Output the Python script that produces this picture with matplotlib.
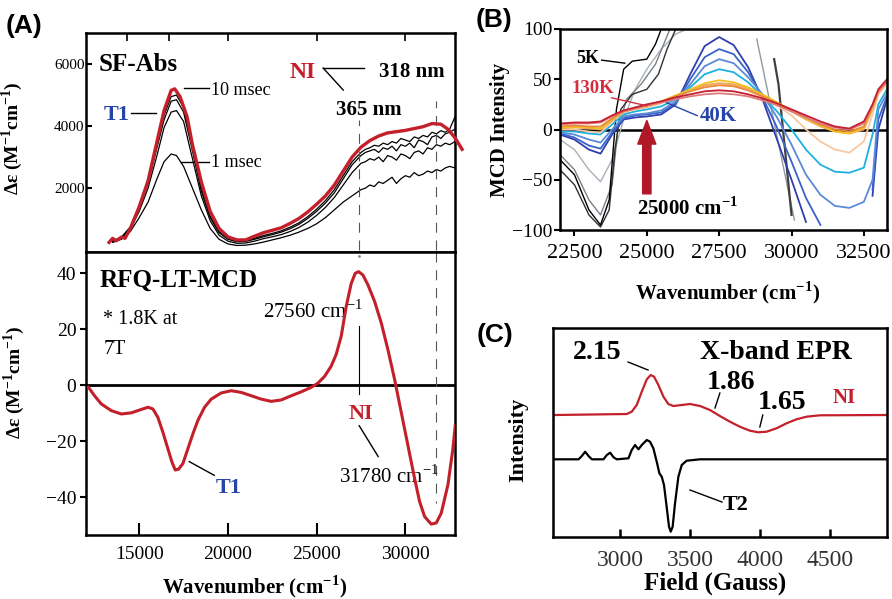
import matplotlib.pyplot as plt
import numpy as np

plt.rcParams['font.family'] = ['Liberation Serif', 'DejaVu Serif']
plt.rcParams['mathtext.fontset'] = 'custom'
plt.rcParams['mathtext.rm'] = 'Liberation Serif'
plt.rcParams['mathtext.bf'] = 'Liberation Serif:bold'

RED = '#c4202c'
BLUE = '#2744a8'

# ---------- panel A, top: stopped-flow absorption ----------
a_red_x = [13300, 13500, 13700, 14000, 14200, 14500, 15000, 15500, 16000, 16400, 16800, 17000,
           17300, 17700, 18000, 18500, 19000, 19500, 20000, 20500, 21000, 21500, 22000, 22500,
           23000, 23500, 24000, 24500, 25000, 25500, 26000, 26500, 27000, 27500, 28000, 28500,
           29000, 29500, 30000, 30500, 31000, 31500, 32000, 32400, 32800, 33200]
a_red_y = [250, 380, 300, 420, 380, 700, 1400, 2240, 3500, 4500, 5150, 5200,
           4950, 4300, 3400, 2200, 1250, 700, 430, 330, 330, 450, 560, 640,
           720, 860, 1020, 1230, 1480, 1750, 2100, 2550, 3000, 3320, 3530, 3680,
           3780, 3820, 3860, 3920, 3980, 4080, 4060, 3900, 3620, 3250]

a_blk_x = [13500, 14000, 14500, 15000, 15500, 16000, 16400, 16800, 17100, 17500, 18000, 18500,
           19000, 19500, 20000, 20500, 21000, 21500, 22000, 22500, 23000, 23500, 24000, 24500,
           25000, 25500, 26000, 26500, 27000, 27500, 27750, 28000, 28250, 28500, 28750, 29000,
           29250, 29500, 29750, 30000, 30250, 30500, 30750, 31000, 31250, 31500, 31750, 32000,
           32250, 32500, 32800]
a_blk_10ms = [300, 420, 750, 1400, 2200, 3400, 4350, 4950, 5000, 4600, 3300, 2000,
              1100, 600, 380, 300, 310, 380, 470, 540, 620, 740, 880, 1080,
              1320, 1600, 1950, 2400, 2850, 3150, 3250, 3300, 3380, 3350, 3450, 3400,
              3500, 3450, 3600, 3550, 3500, 3650, 3600, 3700, 3650, 3800, 3750, 3850,
              3800, 3900, 4300]
a_blk_5ms = [280, 400, 720, 1350, 2150, 3300, 4200, 4800, 4850, 4450, 3200, 1900,
             1050, 560, 350, 270, 280, 350, 430, 500, 580, 690, 830, 1020,
             1250, 1520, 1850, 2300, 2750, 3050, 3150, 3200, 3250, 3150, 3300, 3250,
             3350, 3200, 3400, 3350, 3450, 3300, 3550, 3500, 3400, 3650, 3700, 3600,
             3750, 3800, 3900]
a_blk_3ms = [260, 380, 680, 1250, 2000, 3050, 3950, 4450, 4500, 4150, 2950, 1750,
             950, 480, 290, 220, 230, 290, 370, 430, 500, 600, 730, 900,
             1120, 1380, 1700, 2100, 2500, 2800, 2850, 2950, 2900, 3000, 2850, 3050,
             3000, 2900, 3100, 3050, 2950, 3150, 3200, 3100, 3300, 3250, 3400, 3350,
             3450, 3400, 3500]
a_blk_1ms = [250, 350, 600, 1050, 1550, 2300, 2850, 3100, 3050, 2700, 2000, 1300,
             700, 350, 200, 150, 160, 200, 260, 330, 400, 480, 580, 700,
             850, 1050, 1300, 1550, 1750, 1950, 2000, 2100, 2050, 2200, 2150, 2250,
             2350, 2150, 2300, 2400, 2350, 2500, 2400, 2450, 2550, 2500, 2600, 2550,
             2650, 2700, 2650]

# ---------- panel A, bottom: RFQ-LT-MCD ----------
a_mcd_x = [12144, 12482, 12858, 13422, 13985, 14549, 15113, 15489, 15770, 16052, 16334, 16616,
           16842, 17030, 17217, 17462, 17744, 18025, 18307, 18683, 19059, 19622, 20186, 20750,
           21314, 21877, 22441, 23005, 23568, 24132, 24696, 25072, 25447, 25823, 26105, 26387,
           26669, 26951, 27176, 27364, 27608, 27890, 28266, 28642, 29017, 29393, 29769, 30145,
           30521, 30802, 31084, 31460, 31742, 32024, 32400, 32681, 32813]
a_mcd_y = [-0.8, -3.8, -6.7, -9.1, -10.3, -9.9, -8.7, -7.9, -8.5, -11.5, -16.8, -22.7,
           -27.4, -30.3, -30.0, -28.0, -22.7, -17.4, -12.6, -7.9, -5.0, -2.8, -2.0, -2.6,
           -3.8, -5.0, -5.8, -5.3, -3.8, -2.4, -0.8, 0.7, 3.1, 6.8, 11.0, 17.5,
           28.1, 36.3, 39.9, 40.5, 39.3, 35.8, 29.9, 22.2, 12.7, 2.1, -9.7, -21.5,
           -33.3, -41.5, -46.9, -49.6, -49.2, -45.7, -35.6, -22.7, -14.4]

# ---------- panel B: VTVH MCD ----------
b_x = [22000, 22500, 23000, 23400, 23800, 24200, 24600, 25000, 25500, 26000, 26500, 27000,
       27500, 28000, 28500, 29000, 29500, 30000, 30500, 31000, 31500, 32000, 32500, 32800,
       33000, 33300]
nan = np.nan
b_curves = [
    ('#2f3fae', [-5, -10, -20, -24, -5, 10, 12, 13, 15, 25, 55, 83,
                 92, 84, 62, 30, -10, -50, -92, nan, nan, nan, nan, -66, 0, 30]),
    ('#3a62c8', [-4, -8, -16, -19, -3, 11, 14, 15, 17, 26, 50, 72,
                 80, 75, 57, 32, 2, -32, -68, -95, nan, nan, nan, -60, 10, 33]),
    ('#5a8ad8', [-3, -5, -10, -13, 0, 13, 15, 16, 19, 28, 45, 63,
                 70, 66, 52, 35, 12, -15, -45, -65, -76, -78, -72, -50, 20, 36]),
    ('#1fb0e0', [-2, -2, -4, -5, 5, 15, 18, 20, 23, 30, 42, 55,
                 60, 57, 47, 33, 18, 0, -20, -35, -42, -43, -38, -5, 25, 40]),
    ('#f6c9a4', [0, 0, -2, -3, 8, 17, 20, 22, 26, 32, 39, 44,
                 46, 44, 39, 32, 24, 14, 0, -12, -20, -23, -12, 15, 35, 45]),
    ('#f0a858', [1, 2, 1, 0, 9, 18, 21, 23, 27, 33, 39, 44,
                 46, 45, 41, 34, 26, 18, 10, 3, -2, -4, 0, 20, 37, 47]),
    ('#f2c020', [2, 3, 2, 1, 10, 18, 21, 24, 28, 34, 40, 46,
                 49, 47, 42, 35, 27, 19, 11, 4, -2, -4, 2, 22, 38, 48]),
    ('#e88a3a', [3, 4, 3, 3, 11, 18, 21, 24, 28, 33, 38, 42,
                 44, 43, 39, 33, 26, 19, 12, 5, 0, -2, 3, 23, 38, 48]),
    ('#e07a7a', [5, 6, 6, 7, 13, 18, 21, 24, 27, 30, 33, 35,
                 36, 35, 33, 29, 24, 18, 12, 6, 2, 0, 6, 24, 38, 48]),
    ('#c42030', [6, 7, 7, 8, 14, 19, 22, 25, 28, 32, 35, 38,
                 39, 38, 35, 31, 26, 20, 14, 8, 3, 1, 8, 25, 40, 50]),
]
# steep low-temperature traces
b_k5_x = [22000, 22500, 23000, 23400, 23700, 23950, 24200, 24500, 25000, 25300, 25500]
b_k5_y = [-30, -45, -80, -95, -70, 20, 60, 68, 70, 85, 100]
b_k10_x = [22000, 22500, 23000, 23400, 23700, 23900, 24100, 24500, 25000, 25400, 25700, 26000]
b_k10_y = [-40, -55, -85, -97, -80, -20, 20, 35, 40, 55, 80, 100]
b_g1_x = [22000, 22500, 23000, 23400, 23800, 24200, 24600, 25000, 25500, 26000, 26400]
b_g1_y = [-10, -20, -40, -52, -30, 10, 40, 60, 80, 95, 100]
b_g2_x = [22000, 22500, 23000, 23400, 23800, 24000, 24300, 24800, 25300, 25800]
b_g2_y = [-25, -40, -70, -85, -55, 0, 30, 45, 65, 100]
b_g3_x = [28800, 30100]
b_g3_y = [90, -90]
b_k3_x = [29400, 29550, 30000]
b_k3_y = [70, 45, -85]

# ---------- panel C: X-band EPR ----------
c_ni_x = [2536, 3048, 3083, 3119, 3155, 3191, 3219, 3243, 3274, 3310, 3345, 3381,
          3441, 3500, 3572, 3643, 3714, 3786, 3857, 3929, 3988, 4048, 4119, 4191,
          4262, 4334, 4429, 4917]
c_ni_y = [122, 123, 125.3, 132, 145.3, 157.7, 162, 160.3, 152, 140.3, 133, 131,
          132, 133, 131, 127, 121, 115.3, 110.3, 106.3, 104.7, 105.3, 108.7, 113.7,
          117.7, 120.3, 121.7, 122]
c_t2_x = [2536, 2703, 2726, 2750, 2774, 2798, 2881, 2905, 2929, 2953, 2976, 3060,
          3083, 3107, 3131, 3155, 3191, 3214, 3238, 3262, 3281, 3298, 3314, 3333,
          3350, 3362, 3376, 3393, 3417, 3441, 3476, 3572, 4917]
c_t2_y = [77.7, 77.7, 81, 85.3, 81, 77.7, 77.7, 82, 84.3, 79.7, 77.7, 78.7,
          87, 92, 87.7, 92, 97, 95.3, 88.7, 75.3, 63.7, 60.3, 52, 30.3,
          10.3, 5.3, 10.3, 33.7, 60.3, 72, 76.3, 77.7, 77.7]

fig = plt.figure(figsize=(8.92, 5.99), dpi=100)

axA1 = fig.add_axes([0.0964, 0.5793, 0.4137, 0.3656])
axA2 = fig.add_axes([0.0964, 0.1068, 0.4137, 0.4725])
axB = fig.add_axes([0.6278, 0.6160, 0.3666, 0.3356])
axC = fig.add_axes([0.6200, 0.1035, 0.3744, 0.3489])

for ax in (axA1, axA2, axB, axC):
    for s in ax.spines.values():
        s.set_linewidth(1.8)

# --- A top
for yy in (a_blk_10ms, a_blk_5ms, a_blk_3ms, a_blk_1ms):
    axA1.plot(a_blk_x, yy, color='black', lw=0.9)
axA1.plot(a_red_x, a_red_y, color=RED, lw=2.4, clip_on=False, zorder=5)
axA1.plot([27400, 27400], [0, 4200], color='#555555', lw=0.8, ls=(0, (9, 7)))
axA1.plot([31750, 31750], [0, 4800], color='#555555', lw=0.8, ls=(0, (9, 7)))
axA1.set_xlim(12000, 32800)
axA1.set_ylim(-60, 7000)
axA1.set_yticks([2000, 4000, 6000])
axA1.tick_params(axis='y', direction='in', length=4, width=1.5, pad=1, labelsize=11)
axA1.set_xticks([1e7 / 700, 1e7 / 600, 20000, 25000, 30000])
axA1.tick_params(axis='x', direction='in', length=6, width=1.2, top=True, bottom=False,
                 labelbottom=False)
axA1.set_ylabel(r'$\mathbf{\Delta\varepsilon}$ (M$^{\mathbf{-1}}$cm$^{\mathbf{-1}}$)',
                fontsize=14, fontweight='bold')
axA1.yaxis.set_label_coords(-0.165, 0.52)

axA1.text(12690, 5970, 'SF-Abs', fontsize=18, fontweight='bold', va='center')
axA1.text(12970, 4355, 'T1', fontsize=16, fontweight='bold', color=BLUE, va='center')
axA1.plot([14550, 15960], [4420, 4420], color='black', lw=1)
axA1.text(19060, 5160, '10 msec', fontsize=13, va='center')
axA1.plot([17540, 18950], [5230, 5230], color='black', lw=1)
axA1.text(19060, 2810, '1 msec', fontsize=13, va='center')
axA1.plot([17370, 18950], [2840, 2840], color='black', lw=1)
axA1.text(23460, 5740, 'NI', fontsize=17, fontweight='bold', color=RED, va='center')
axA1.plot([25370, 27680], [5870, 5870], color='black', lw=1)
axA1.plot([25370, 26500], [5870, 5160], color='black', lw=1)
axA1.text(28530, 5740, '318 nm', fontsize=15, fontweight='bold', va='center')
axA1.text(26100, 4520, '365 nm', fontsize=15, fontweight='bold', va='center')

# --- A bottom
axA2.axhline(0, color='black', lw=2)
axA2.plot(a_mcd_x, a_mcd_y, color=RED, lw=2.2, zorder=5)
axA2.plot([27400, 27400], [21, -3], color='black', lw=0.8)
axA2.plot([27400], [46], marker='.', color='#888888', ms=2)
axA2.plot([31750, 31750], [47.5, -42], color='#555555', lw=0.8, ls=(0, (9, 7)))
axA2.set_xlim(12000, 32800)
axA2.set_ylim(-53.5, 47.5)
axA2.set_xticks([15000, 20000, 25000, 30000])
axA2.set_yticks([-40, -20, 0, 20, 40])
axA2.tick_params(axis='x', direction='in', length=9, width=1.5, pad=8, labelsize=14)
axA2.tick_params(axis='y', direction='out', length=4, width=1.5, pad=3, labelsize=14)
axA2.set_xlabel(r'Wavenumber (cm$^{\mathbf{-1}}$)', fontsize=15, fontweight='bold')
axA2.xaxis.set_label_coords(0.458, -0.183)
axA2.xaxis.label.set_va('center')
axA2.set_ylabel(r'$\mathbf{\Delta\varepsilon}$ (M$^{\mathbf{-1}}$cm$^{\mathbf{-1}}$)',
                fontsize=14, fontweight='bold')
axA2.yaxis.set_label_coords(-0.16, 0.54)

axA2.text(12750, 37.5, 'RFQ-LT-MCD', fontsize=18, fontweight='bold', va='center')
axA2.text(12970, 23.4, '* 1.8K at', fontsize=14.5, va='center')
axA2.text(12970, 12.7, '7T', fontsize=14.5, va='center')
axA2.text(27630, 26.2, r'27560 cm$^{-1}$', fontsize=15, ha='right', va='center')
axA2.text(27510, -10.3, 'NI', fontsize=16, fontweight='bold', color=RED, ha='center', va='center')
axA2.plot([27400, 28470], [-14.5, -25.5], color='black', lw=1)
axA2.text(26270, -32.6, r'31780 cm$^{-1}$', fontsize=15, va='center')
axA2.text(20020, -36.8, 'T1', fontsize=16, fontweight='bold', color=BLUE, ha='center', va='center')
axA2.plot([17820, 19230], [-27.3, -32.2], color='black', lw=1)

# --- B
axB.axhline(0, color='black', lw=1.8, zorder=1)
axB.plot(b_g1_x, b_g1_y, color='#a8b0b8', lw=1)
axB.plot(b_g2_x, b_g2_y, color='#7a8088', lw=1)
axB.plot(b_k10_x, b_k10_y, color='#303030', lw=1)
axB.plot(b_k5_x, b_k5_y, color='black', lw=1)
axB.plot(b_g3_x, b_g3_y, color='#909aa4', lw=1)
axB.plot(b_k3_x, b_k3_y, color='#404040', lw=1.6)
for col, yy in b_curves:
    axB.plot(b_x, yy, color=col, lw=1.3)
axB.set_xlim(22000, 33300)
axB.set_ylim(-100, 100)
axB.set_xticks([22500, 25000, 27500, 30000, 32500])
axB.set_yticks([-100, -50, 0, 50, 100])
axB.tick_params(axis='x', direction='out', length=4, width=1.5, pad=6, labelsize=16)
axB.tick_params(axis='y', direction='out', length=4, width=1.5, pad=1.5, labelsize=14)
axB.set_xlabel(r'Wavenumber (cm$^{\mathbf{-1}}$)', fontsize=15, fontweight='bold')
axB.xaxis.set_label_coords(0.511, -0.313)
axB.xaxis.label.set_va('center')
axB.set_ylabel('MCD Intensity', fontsize=15, fontweight='bold')
axB.yaxis.set_label_coords(-0.153, 0.497)

axB.text(22570, 71, '5K', fontsize=13, fontweight='bold', va='center')
axB.plot([23440, 24240], [69, 66], color='black', lw=1)
axB.text(22400, 41, '130K', fontsize=13.5, fontweight='bold', color='#d03040', va='center')
axB.plot([23780, 25000], [31.5, 23.6], color='#d03040', lw=1)
axB.text(26840, 13.8, '40K', fontsize=15, fontweight='bold', color=BLUE, va='center')
axB.plot([26740, 25690], [13.8, 26.6], color=BLUE, lw=1)
axB.annotate('', xy=(25000, 9), xytext=(25000, -64),
             arrowprops=dict(arrowstyle='simple,head_length=1.7,head_width=1.3,tail_width=0.6',
                             color='#b01828', mutation_scale=10, shrinkA=0, shrinkB=0))
axB.text(24650, -79, r'25000 cm$^{\mathbf{-1}}$', fontsize=15, fontweight='bold', va='center')

# --- C
axC.plot(c_ni_x, c_ni_y, color=RED, lw=1.6)
axC.plot(c_t2_x, c_t2_y, color='black', lw=1.6)
axC.set_xlim(2520, 4910)
axC.set_ylim(0, 209)
axC.set_xticks([3000, 3500, 4000, 4500])
axC.set_yticks([])
axC.tick_params(axis='x', direction='in', length=6, width=1.8, pad=9, labelsize=17,
                labelcolor='#333333')
axC.set_xlabel('Field (Gauss)', fontsize=18, fontweight='bold')
axC.xaxis.set_label_coords(0.485, -0.22)
axC.xaxis.label.set_va('center')
axC.set_ylabel('Intensity', fontsize=16, fontweight='bold')
axC.yaxis.set_label_coords(-0.075, 0.464)

axC.text(3570, 185, 'X-band EPR', fontsize=20, fontweight='bold', va='center')
axC.text(2664, 185, '2.15', fontsize=20, fontweight='bold', va='center')
axC.plot([3057, 3200], [175, 167], color='black', lw=1)
axC.text(3621, 155, '1.86', fontsize=20, fontweight='bold', va='center')
axC.plot([3714, 3679], [144, 129], color='black', lw=1)
axC.text(3986, 135, '1.65', fontsize=20, fontweight='bold', va='center')
axC.plot([4021, 4000], [122, 110], color='black', lw=1)
axC.text(4521, 139, 'NI', fontsize=15, fontweight='bold', color=RED, va='center')
axC.text(3736, 32, 'T2', fontsize=16, fontweight='bold', va='center')
axC.plot([3500, 3729], [47, 35], color='black', lw=1)

# panel letters
fig.text(24 / 892, 1 - 26 / 599, '(A)', fontsize=19, fontweight='bold',
         family='Liberation Sans', ha='center', va='center')
fig.text(494 / 892, 1 - 20 / 599, '(B)', fontsize=19, fontweight='bold',
         family='Liberation Sans', ha='center', va='center')
fig.text(495 / 892, 1 - 335 / 599, '(C)', fontsize=19, fontweight='bold',
         family='Liberation Sans', ha='center', va='center')

fig.savefig('out.png', dpi=100)
